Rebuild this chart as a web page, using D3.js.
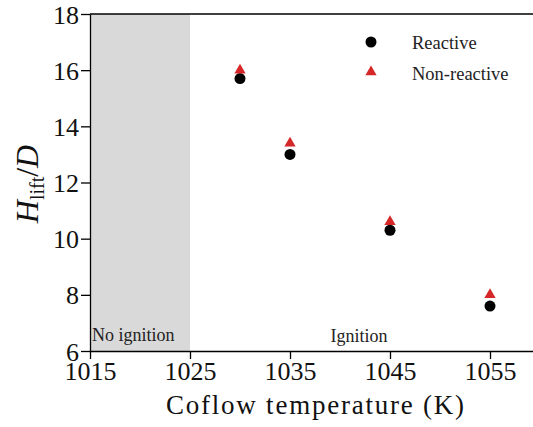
<!DOCTYPE html>
<html><head><meta charset="utf-8">
<script src="https://cdn.jsdelivr.net/npm/d3@7"></script>
<style>body{margin:0;background:#fff}</style>
</head><body>
<script>
const temps = [1030, 1035, 1045, 1055];
const reactive = [15.7, 13.0, 10.3, 7.6];
const nonReactive = [16.0, 13.4, 10.6, 8.0];
const xTicks = [1015, 1025, 1035, 1045, 1055];
const yTicks = [6, 8, 10, 12, 14, 16, 18];
const noIgnition = [1015, 1025];

const F = "Liberation Serif";
const m = {left: 90, top: 14, bottom: 351, right: 540};
const svg = d3.select("body").append("svg").attr("width", 533).attr("height", 427)
  .style("display", "block").style("font-family", F);
const x = d3.scaleLinear().domain([1015, 1060]).range([m.left, m.right]);
const y = d3.scaleLinear().domain([6, 18]).range([m.bottom, m.top]);

svg.append("rect").attr("x", x(noIgnition[0])).attr("y", m.top)
  .attr("width", x(noIgnition[1]) - x(noIgnition[0])).attr("height", m.bottom - m.top)
  .attr("fill", "#d9d9d9");

svg.append("line").attr("x1", m.left).attr("x2", m.right).attr("y1", m.top).attr("y2", m.top)
  .attr("stroke", "#000").attr("stroke-width", 1.3);

const xa = svg.append("g").attr("transform", `translate(0,${m.bottom})`)
  .call(d3.axisBottom(x).tickValues(xTicks).tickFormat(d3.format("d")).tickSize(8).tickPadding(2).tickSizeOuter(0));
const ya = svg.append("g").attr("transform", `translate(${m.left},0)`)
  .call(d3.axisLeft(y).tickValues(yTicks).tickFormat(d3.format("d")).tickSize(9).tickPadding(2).tickSizeOuter(0));
[xa, ya].forEach(a => {
  a.attr("font-family", null);
  a.selectAll("path,line").attr("stroke", "#000").attr("stroke-width", 1.3);
  a.selectAll("text").style("font-family", F).attr("font-size", 26).attr("fill", "#111");
});
xa.selectAll("text").attr("dy", "0.72em");
ya.selectAll("text").attr("dy", "0.35em");

function txt(xp, yp, s, size, anchor) {
  return svg.append("text").attr("x", xp).attr("y", yp)
    .style("font-family", F)
    .attr("font-size", size).attr("fill", "#222").attr("text-anchor", anchor || "start").text(s);
}
txt(m.left + 2, 341, "No ignition", 18);
txt(359, 342, "Ignition", 18, "middle");

svg.selectAll("circle.r").data(temps).join("circle").attr("class", "r")
  .attr("cx", (d) => x(d)).attr("cy", (d, i) => y(reactive[i])).attr("r", 5.5).attr("fill", "#000");
const tri = d3.symbol().type(d3.symbolTriangle).size(55);
svg.selectAll("path.n").data(temps).join("path").attr("class", "n")
  .attr("d", tri).attr("fill", "#d62728")
  .attr("transform", (d, i) => `translate(${x(d)},${y(nonReactive[i])})`);

// legend
svg.append("circle").attr("cx", 371).attr("cy", 42).attr("r", 5.5).attr("fill", "#000");
svg.append("path").attr("d", tri).attr("fill", "#d62728").attr("transform", "translate(371,72)");
txt(412, 49, "Reactive", 18.5);
txt(412, 80, "Non-reactive", 18.5);

txt(315, 414, "Coflow temperature (K)", 27, "middle").attr("fill", "#111")
  .attr("textLength", 298).attr("lengthAdjust", "spacing");

const yl = svg.append("text").attr("transform", "translate(38,184) rotate(-90)")
  .style("font-family", F)
  .attr("text-anchor", "middle").attr("font-size", 32).attr("fill", "#111");
yl.append("tspan").attr("font-style", "italic").text("H");
yl.append("tspan").attr("font-size", 20).attr("dy", 6).text("lift");
yl.append("tspan").attr("dy", -6).text("/");
yl.append("tspan").attr("font-style", "italic").text("D");
</script>
</body></html>
